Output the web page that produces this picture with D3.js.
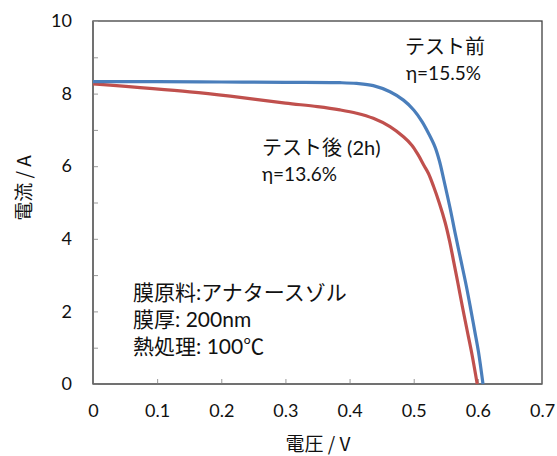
<!DOCTYPE html>
<html><head><meta charset="utf-8">
<script src="https://cdn.jsdelivr.net/npm/d3@7"></script>
<style>body{margin:0;background:#fff}</style>
</head><body>
<script>
const beforeV = [0, 0.1, 0.2, 0.3, 0.385, 0.411, 0.437, 0.463, 0.484, 0.500, 0.513, 0.523, 0.533, 0.540, 0.547, 0.557, 0.565, 0.574, 0.582, 0.589, 0.595, 0.601, 0.608];
const beforeI = [8.33, 8.33, 8.32, 8.31, 8.30, 8.28, 8.22, 8.05, 7.82, 7.55, 7.23, 6.91, 6.54, 6.15, 5.62, 4.82, 4.12, 3.37, 2.70, 2.05, 1.47, 0.88, 0];
const afterV = [0, 0.151, 0.214, 0.30, 0.35, 0.385, 0.411, 0.437, 0.463, 0.484, 0.497, 0.507, 0.516, 0.523, 0.531, 0.540, 0.549, 0.556, 0.562, 0.569, 0.576, 0.583, 0.591, 0.599];
const afterI = [8.27, 8.05, 7.93, 7.74, 7.64, 7.55, 7.46, 7.32, 7.09, 6.81, 6.58, 6.31, 6.02, 5.80, 5.44, 4.98, 4.45, 3.93, 3.40, 2.77, 2.12, 1.50, 0.80, 0];
const xTicks = [0, 0.1, 0.2, 0.3, 0.4, 0.5, 0.6, 0.7];
const yTicks = [0, 2, 4, 6, 8, 10];
const yMinor = [0,1,2,3,4,5,6,7,8,9,10];

const W = 557, H = 456;
const m = {l: 93, r: 15, t: 21, b: 72};
const svg = d3.select("body").append("svg").attr("width", W).attr("height", H);
const x = d3.scaleLinear().domain([0, 0.7]).range([m.l, W - m.r]);
const y = d3.scaleLinear().domain([0, 10]).range([H - m.b, m.t]);
const numFont = "Lato, 'Noto Sans CJK JP', sans-serif";
const jpFont = "'Noto Sans CJK JP', sans-serif";

// frame
svg.append("rect").attr("x", x(0)).attr("y", y(10)).attr("width", x(0.7) - x(0)).attr("height", y(0) - y(10))
  .attr("fill", "none").attr("stroke", "#404040").attr("stroke-width", 1.3);

// ticks inside
const yAx = svg.append("g").attr("transform", `translate(${x(0)},0)`)
  .call(d3.axisRight(y).tickValues(yMinor).tickSize(5).tickFormat(""));
yAx.select(".domain").remove();
yAx.selectAll("line").attr("stroke", "#999");
const xAx = svg.append("g").attr("transform", `translate(0,${y(0)})`)
  .call(d3.axisTop(x).tickValues(xTicks.slice(1, -1)).tickSize(5).tickFormat(""));
xAx.select(".domain").remove();
xAx.selectAll("line").attr("stroke", "#999");

// axis lines
svg.append("line").attr("x1", x(0)).attr("x2", x(0)).attr("y1", y(10)).attr("y2", y(0)).attr("stroke", "#6b6b6b").attr("stroke-width", 1.5);
svg.append("line").attr("x1", x(0)).attr("x2", x(0.7)).attr("y1", y(0)).attr("y2", y(0)).attr("stroke", "#6b6b6b").attr("stroke-width", 1.5);

// tick labels
const yl = svg.append("g").attr("transform", `translate(${x(0) - 18},0)`)
  .call(d3.axisLeft(y).tickValues(yTicks).tickSize(0).tickFormat(d3.format("d")));
yl.select(".domain").remove();
yl.selectAll("text").attr("font-family", numFont).attr("font-size", 18).attr("fill", "#111");
const xl = svg.append("g").attr("transform", `translate(0,${y(0) + 17})`)
  .call(d3.axisBottom(x).tickValues(xTicks).tickSize(0).tickFormat(d => d === 0 ? "0" : d3.format(".1f")(d)));
xl.select(".domain").remove();
xl.selectAll("text").attr("font-family", numFont).attr("font-size", 18).attr("fill", "#111");

// axis titles
svg.append("text").attr("x", 318).attr("y", 451).attr("text-anchor", "middle")
  .attr("font-family", jpFont).attr("font-size", 19).attr("fill", "#111").text("電圧 / V");
svg.append("text").attr("transform", "translate(31,188) rotate(-90)").attr("text-anchor", "middle")
  .attr("font-family", jpFont).attr("font-size", 19).attr("fill", "#111").text("電流 / A");

// curves
const line = d3.line().x(d => x(d[0])).y(d => y(d[1])).curve(d3.curveCatmullRom.alpha(0.5));
svg.append("path").datum(afterV.map((v, i) => [v, afterI[i]])).attr("d", line)
  .attr("fill", "none").attr("stroke", "#C0504D").attr("stroke-width", 3.2).attr("stroke-linejoin", "round");
svg.append("path").datum(beforeV.map((v, i) => [v, beforeI[i]])).attr("d", line)
  .attr("fill", "none").attr("stroke", "#4A7EBB").attr("stroke-width", 3.2).attr("stroke-linejoin", "round");

// annotations
svg.append("text").attr("x", 405).attr("y", 54).attr("font-family", jpFont).attr("font-size", 20).attr("fill", "#111").text("テスト前");
svg.append("text").attr("x", 406).attr("y", 80).attr("font-family", numFont).attr("font-size", 19).attr("fill", "#111").text("η=15.5%");
svg.append("text").attr("x", 262).attr("y", 155).attr("font-family", numFont).attr("font-size", 20).attr("fill", "#111").text("テスト後 (2h)");
svg.append("text").attr("x", 262).attr("y", 181).attr("font-family", numFont).attr("font-size", 19).attr("fill", "#111").text("η=13.6%");

const notes = ["膜原料:アナタースゾル", "膜厚: 200nm", "熱処理:  100℃"];
notes.forEach((n, i) => {
  svg.append("text").attr("x", 133).attr("y", 300 + i * 27).attr("font-family", numFont)
    .attr("font-size", 21).attr("fill", "#111").text(n);
});
</script>
</body></html>
